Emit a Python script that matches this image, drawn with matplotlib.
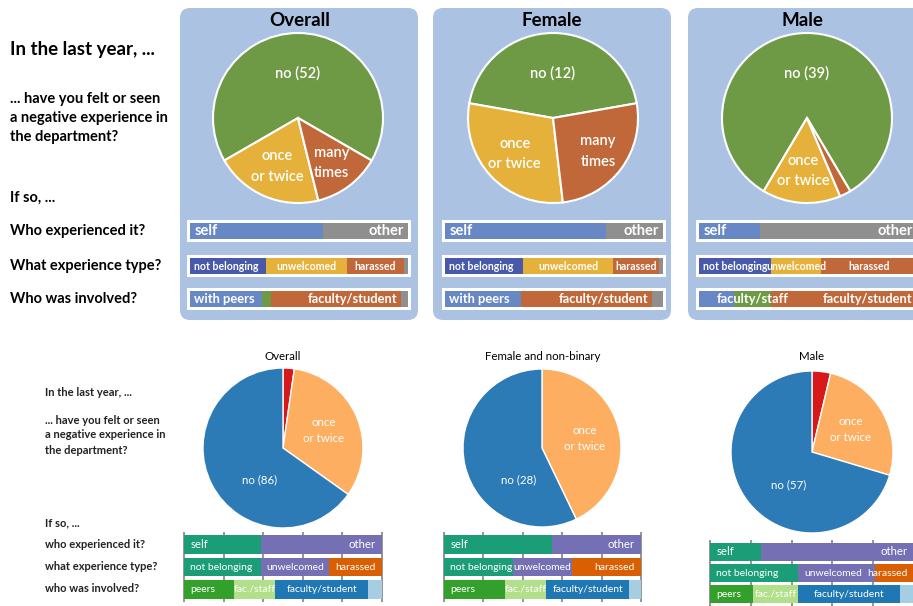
import matplotlib
matplotlib.use("Agg")
import matplotlib.pyplot as plt
from matplotlib.patches import FancyBboxPatch
import numpy as np

plt.rcParams['font.family'] = ['Lato', 'DejaVu Sans']

# ---------------- data ----------------
top_groups = ["Overall", "Female", "Male"]
top_no = [52, 12, 39]
top_once = [16, 8, 7]
top_many = [10, 7, 1]
top_who_self = [61, 74, 28]
top_who_other = [39, 26, 72]
top_type_notbelonging = [35, 36, 33]
top_type_unwelcomed = [37, 41, 23]
top_type_harassed = [26, 21, 44]
top_type_other = [2, 2, 0]
top_inv_peers = [33, 35, 16]
top_inv_facstaff = [4, 0, 17]
top_inv_facstudent = [60, 60, 67]
top_inv_other = [3, 5, 0]

bot_groups = ["Overall", "Female and non-binary", "Male"]
bot_no = [86, 28, 57]
bot_once = [43, 21, 21]
bot_many = [3, 0, 3]
bot_who_self = [39, 55, 25]
bot_who_other = [61, 45, 75]
bot_type_notbelonging = [39, 35, 43]
bot_type_unwelcomed = [34, 30, 38]
bot_type_harassed = [27, 35, 19]
bot_inv_peers = [25, 31, 21]
bot_inv_facstaff = [21, 21, 22]
bot_inv_facstudent = [47, 42, 50]
bot_inv_other = [7, 6, 7]

top_questions = ["If so, ...", "Who experienced it?", "What experience type?", "Who was involved?"]
bot_questions = ["If so, ...", "who experienced it?", "what experience type?", "who was involved?"]

# ---------------- layout helpers ----------------
W, H = 913, 606
fig = plt.figure(figsize=(W / 100, H / 100), dpi=100)
fig.patch.set_facecolor('white')


def px_axes(x0, y0, w, h):
    return fig.add_axes([x0 / W, 1 - (y0 + h) / H, w / W, h / H])


bg = px_axes(0, 0, W, H)
bg.set_xlim(0, W)
bg.set_ylim(H, 0)
bg.axis('off')

BOX = '#abc2e3'
for x0 in [180, 433, 688]:
    bg.add_patch(FancyBboxPatch((x0, 8), 238, 312,
                                boxstyle="round,pad=0,rounding_size=10",
                                fc=BOX, ec='none'))

# top-left labels
bg.text(10, 50, "In the last year, ...", fontsize=13.5, fontweight='bold', va='center', color='black')
for i, t in enumerate(["... have you felt or seen", "a negative experience in", "the department?"]):
    bg.text(10, 99 + 19 * i, t, fontsize=10.5, fontweight='bold', va='center', color='black')
for t, y in zip(top_questions, [198, 231, 266, 299]):
    bg.text(10, y, t, fontsize=10.5, fontweight='bold', va='center', color='black')

# bottom-left labels
bg.text(45, 393, "In the last year, ...", fontsize=8, fontweight='bold', va='center', color='#222222')
for i, t in enumerate(["... have you felt or seen", "a negative experience in", "the department?"]):
    bg.text(45, 420 + 15 * i, t, fontsize=8, fontweight='bold', va='center', color='#222222')
for t, y in zip(bot_questions, [523, 545, 567, 589]):
    bg.text(45, y, t, fontsize=8, fontweight='bold', va='center', color='#222222')

# titles
for t, x in zip(top_groups, [300, 552, 802]):
    bg.text(x, 21, t, fontsize=13.5, fontweight='bold', ha='center', va='center', color='black')
for t, x in zip(bot_groups, [283, 543, 812]):
    bg.text(x, 356, t, fontsize=8.3, ha='center', va='center', color='black')

# ---------------- top pies ----------------
TG, TY, TO = '#6f9a45', '#e5b13a', '#c0683a'
top_centers = [(298, 118), (553, 118), (807, 118)]
TR = 85
for i, (cx, cy) in enumerate(top_centers):
    m = 1.03
    ax = px_axes(cx - TR * m, cy - TR * m, 2 * TR * m, 2 * TR * m)
    vals = [top_no[i], top_once[i], top_many[i]]
    tot = sum(vals)
    wedges, _ = ax.pie(vals, colors=[TG, TY, TO], startangle=90 - 180 * vals[0] / tot,
                       counterclock=True,
                       wedgeprops=dict(edgecolor='white', linewidth=1.5))
    ax.set_xlim(-m, m)
    ax.set_ylim(-m, m)
    labels = [f"no ({top_no[i]})", "once\nor twice", "many\ntimes"]
    radii = [0.53, 0.62, 0.66]
    for w, lab, r, v in zip(wedges, labels, radii, vals):
        if v / tot < 0.1:
            continue
        th = np.deg2rad((w.theta1 + w.theta2) / 2)
        ax.text(r * np.cos(th), r * np.sin(th), lab, color='white', fontsize=10.5,
                fontweight='semibold', ha='center', va='center', linespacing=1.55)

# ---------------- bottom pies ----------------
BB, BO, BR = '#2c7bb6', '#fdae61', '#d7191c'
bot_centers = [(283, 448, 80), (542, 448, 79), (812, 452, 81)]
for i, (cx, cy, r0) in enumerate(bot_centers):
    m = 1.03
    ax = px_axes(cx - r0 * m, cy - r0 * m, 2 * r0 * m, 2 * r0 * m)
    vals = [bot_many[i], bot_once[i], bot_no[i]]
    wedges, _ = ax.pie(vals, colors=[BR, BO, BB], startangle=90, counterclock=False,
                       wedgeprops=dict(edgecolor='white', linewidth=1.0))
    ax.set_xlim(-m, m)
    ax.set_ylim(-m, m)
    w = wedges[1]
    th = np.deg2rad((w.theta1 + w.theta2) / 2)
    ax.text(0.55 * np.cos(th), 0.55 * np.sin(th), "once\nor twice", color='white', fontsize=8.3,
            ha='center', va='center', linespacing=1.5)
    ax.text(-0.29, -0.40, f"no ({bot_no[i]})", color='white', fontsize=8.3, ha='center', va='center')


# ---------------- bar rows ----------------
def place_labels(ax, values, labels, aligns, fs, pad_pts):
    left = 0
    for v, lab, al in zip(values, labels, aligns):
        if lab:
            if al == 'left':
                ax.annotate(lab, (left, 0), xytext=(pad_pts, 0), textcoords='offset points',
                            ha='left', va='center', color='white', fontsize=fs,
                            fontweight='bold', annotation_clip=False)
            elif al == 'right':
                ax.annotate(lab, (left + v, 0), xytext=(-pad_pts, 0), textcoords='offset points',
                            ha='right', va='center', color='white', fontsize=fs,
                            fontweight='bold', annotation_clip=False)
            else:
                ax.annotate(lab, (left + v / 2, 0), xytext=(0, 0), textcoords='offset points',
                            ha='center', va='center', color='white', fontsize=fs,
                            fontweight='bold', annotation_clip=False)
        left += v


def top_row(x0, y0, values, colors, labels, aligns, fs):
    w, h, pad = 224, 22, 3
    ax = px_axes(x0, y0, w, h)
    tot = sum(values)
    sc = tot / (w - 2 * pad)
    ax.set_xlim(-pad * sc, tot + pad * sc)
    ax.set_ylim(-0.5, 0.5)
    ax.set_facecolor('white')
    for s in ax.spines.values():
        s.set_visible(False)
    ax.set_xticks([])
    ax.set_yticks([])
    left = 0
    for v, c in zip(values, colors):
        ax.barh(0, v, left=left, height=(h - 2 * pad) / h, color=c, linewidth=0)
        left += v
    place_labels(ax, values, labels, aligns, fs, 3)


SB, GR, NB = '#6788c5', '#8f8f8f', '#4859a9'
top_x = [187, 442, 696]
top_y = [220, 255, 288]
for i in range(3):
    x0 = top_x[i]
    top_row(x0, top_y[0], [top_who_self[i], top_who_other[i]], [SB, GR],
            ["self", "other"], ['left', 'right'], 10.5)
    top_row(x0, top_y[1],
            [top_type_notbelonging[i], top_type_unwelcomed[i], top_type_harassed[i], top_type_other[i]],
            [NB, TY, TO, GR],
            ["not belonging", "unwelcomed", "harassed", ""], ['left', 'center', 'center', 'center'], 7.6)
    lab_staff = "faculty/staff" if top_inv_facstaff[i] >= 10 else ""
    lab_peers = "with peers" if top_inv_peers[i] >= 25 else ""
    top_row(x0, top_y[2],
            [top_inv_peers[i], top_inv_facstaff[i], top_inv_facstudent[i], top_inv_other[i]],
            [SB, TG, TO, GR],
            [lab_peers, lab_staff, "faculty/student", ""], ['left', 'center', 'right', 'center'], 9.3)

# bottom stacked bars
DT, DP, DO = '#1b9e77', '#7570b3', '#d95f02'
PG, PLG, PB, PLB = '#33a02c', '#b2df8a', '#1f78b4', '#a6cee3'
bot_boxes = [(184, 532, 198, 70), (444, 532, 197, 70), (710, 540, 204, 66)]
type_aligns = [['left', 'center', 'center'], ['left', 'center', 'right'], ['left', 'left', 'right']]
for i, (x0, y0, w, h) in enumerate(bot_boxes):
    e = 2
    ax = px_axes(x0 - e, y0, w + 2 * e, h)
    sc = 100 / w
    ax.set_xlim(-e * sc, 100 + e * sc)
    ax.set_ylim(-0.556, 2.556)
    ax.set_facecolor('none')
    for s in ax.spines.values():
        s.set_visible(False)
    ax.set_xticks(np.arange(0, 101, 20))
    ax.set_yticks([])
    ax.tick_params(length=0, labelbottom=False)
    ax.grid(axis='x', color='#8c8c8c', linewidth=1.3)
    ax.set_axisbelow(True)
    rows = [
        ([bot_who_self[i], bot_who_other[i]], [DT, DP], ["self", "other"], ['left', 'right']),
        ([bot_type_notbelonging[i], bot_type_unwelcomed[i], bot_type_harassed[i]], [DT, DP, DO],
         ["not belonging", "unwelcomed", "harassed"], type_aligns[i]),
        ([bot_inv_peers[i], bot_inv_facstaff[i], bot_inv_facstudent[i], bot_inv_other[i]],
         [PG, PLG, PB, PLB], ["peers", "fac./staff", "faculty/student", ""],
         ['left', 'center', 'center', 'center']),
    ]
    fss = [8.2, 7.5, 7.5]
    for k, (vals, cols, labs, als) in enumerate(rows):
        yk = 2 - k
        left = 0
        for v, c in zip(vals, cols):
            ax.barh(yk, v, left=left, height=0.84, color=c, linewidth=0)
            left += v
        lft = 0
        for v, lab, al in zip(vals, labs, als):
            if lab:
                if al == 'left':
                    xy, off, ha = (lft, yk), (4.5, 0), 'left'
                elif al == 'right':
                    xy, off, ha = (lft + v, yk), (-4.5, 0), 'right'
                else:
                    xy, off, ha = (lft + v / 2, yk), (0, 0), 'center'
                ax.annotate(lab, xy, xytext=off, textcoords='offset points', ha=ha, va='center',
                            color='white', fontsize=fss[k], annotation_clip=False)
            lft += v

fig.savefig("out.png", dpi=100, facecolor='white')
